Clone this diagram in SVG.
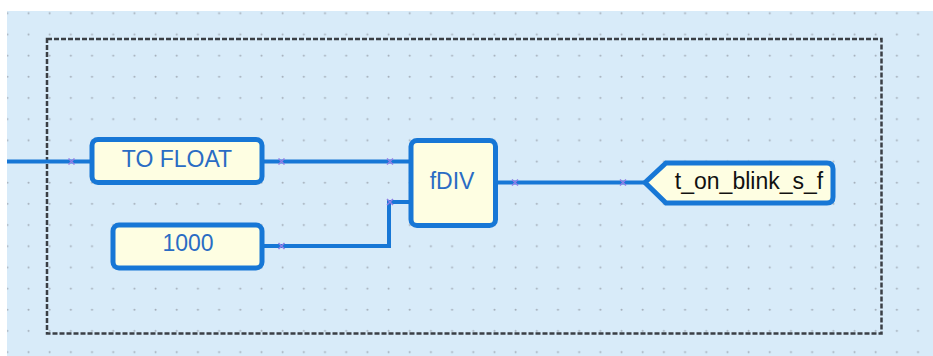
<svg xmlns="http://www.w3.org/2000/svg" width="933" height="356" viewBox="0 0 933 356">
<defs>
<pattern id="dots" x="0" y="0" width="21.18" height="21.18" patternUnits="userSpaceOnUse">
<circle cx="7.3" cy="13.3" r="1" fill="#a3adb8"/>
</pattern>
<style>
.wire{fill:none;stroke:#1777d6;stroke-width:4}
.box{fill:#fefee2;stroke:#1777d6;stroke-width:5}
.lbl{font-family:"Liberation Sans",Arial,sans-serif;font-size:23px;fill:#2a6cc4;text-anchor:middle}
.var{font-family:"Liberation Sans",Arial,sans-serif;font-size:23px;fill:#111;text-anchor:middle}
.mk{fill:none;stroke:#8f7fe6;stroke-width:1.5}
</style>
</defs>
<rect x="0" y="0" width="933" height="356" fill="#ffffff"/>
<rect x="7" y="11" width="926" height="345" fill="#d8ebf9"/>
<rect x="7" y="11" width="926" height="345" fill="url(#dots)"/>
<rect x="47" y="39" width="834.5" height="294.5" fill="none" stroke="#3a3f45" stroke-width="2.5" stroke-dasharray="5,2"/>
<g id="connectors">
<path class="wire" d="M7,161.5 H90"/>
<path class="wire" d="M264,161.5 H409"/>
<path class="wire" d="M264,246 H389 V202 H409"/>
<path class="wire" d="M497,182.5 H645"/>
<g class="mk">
<path d="M68.5,158.5 l6,6 M74.5,158.5 l-6,6"/>
<path d="M278.5,158.5 l6,6 M284.5,158.5 l-6,6"/>
<path d="M387,158.5 l6,6 M393,158.5 l-6,6"/>
<path d="M387,199 l6,6 M393,199 l-6,6"/>
<path d="M278.5,243 l6,6 M284.5,243 l-6,6"/>
<path d="M512,179.5 l6,6 M518,179.5 l-6,6"/>
<path d="M620,179.5 l6,6 M626,179.5 l-6,6"/>
</g>
</g>
<g id="to_float">
<rect class="box" x="92" y="139.5" width="170" height="43" rx="6"/>
<text class="lbl" x="177" y="167">TO FLOAT</text>
</g>
<g id="const_1000">
<rect class="box" x="113" y="225" width="149" height="43" rx="6"/>
<text class="lbl" x="188" y="250.5">1000</text>
</g>
<g id="fdiv">
<rect class="box" x="411" y="140.5" width="84.5" height="85" rx="6"/>
<text class="lbl" x="452" y="189">fDIV</text>
</g>
<g id="t_on_blink_s_f">
<path class="box" d="M645,182.5 L666,163 H827 Q833,163 833,169 V197 Q833,203 827,203 H666 Z"/>
<text class="var" x="749" y="188.5">t_on_blink_s_f</text>
</g>
</svg>
